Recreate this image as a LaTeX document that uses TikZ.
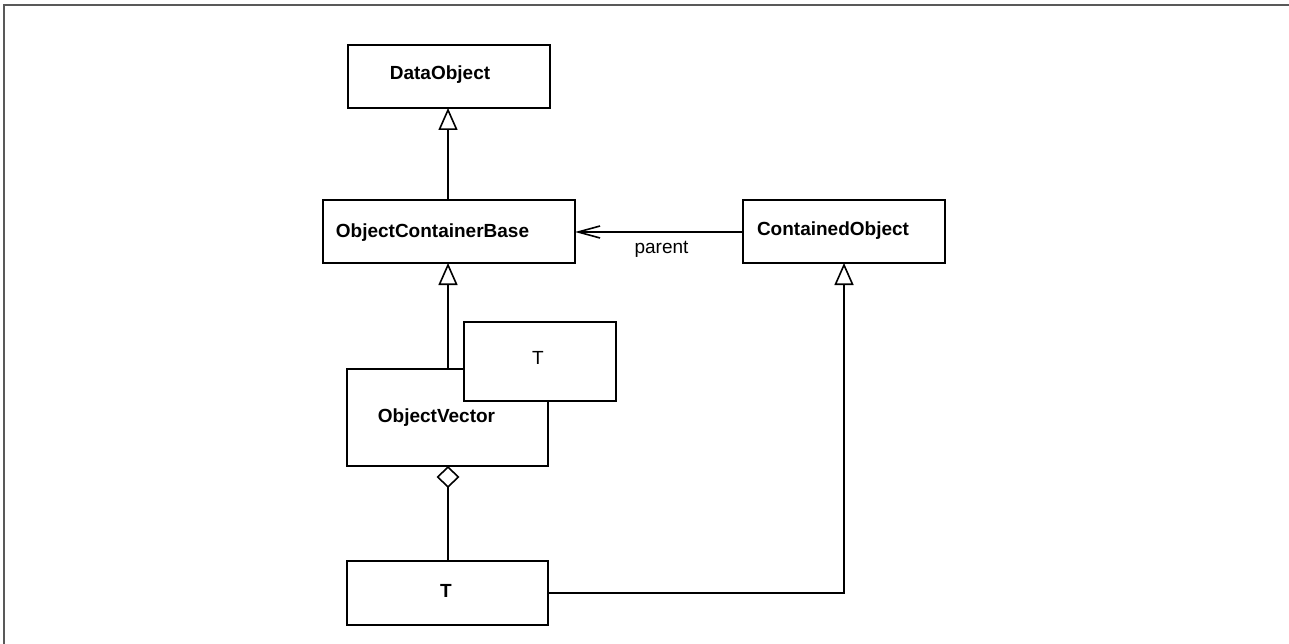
\documentclass[tikz,border=0pt]{standalone}
\usepackage{fontspec}
\setmainfont{Liberation Sans}
\usetikzlibrary{arrows.meta}

\tikzset{
  classbox/.style={draw=black, fill=white, line width=1.8pt, inner sep=0pt, outer sep=0pt},
  cname/.style={font=\fontsize{19}{22}\selectfont\bfseries, anchor=base, inner sep=0pt},
  tname/.style={font=\fontsize{19}{22}\selectfont, anchor=base, inner sep=0pt},
  gen/.style={draw=black, line width=1.8pt, -{Triangle[length=22pt, width=19pt, fill=white, line width=1.6pt]}},
  assoc/.style={draw=black, line width=1.8pt, -{Straight Barb[length=22pt, width=12pt, line width=1.6pt]}},
  agg/.style={draw=black, line width=1.8pt, -{Diamond[length=22pt, width=23pt, fill=white, line width=1.6pt]}},
  frameline/.style={draw=black!65, line width=2pt}
}

\begin{document}
\begin{tikzpicture}[x=1pt, y=-1pt]
\useasboundingbox (0,0) rectangle (1289,644);

% outer frame (left and top edges)
\draw[frameline] (4,650) -- (4,5) -- (1295,5);

% class boxes
\node[classbox, minimum width=202pt, minimum height=63pt] (data) at (449,76.5) {};
\node[classbox, minimum width=252pt, minimum height=63pt] (ocb) at (449,231.5) {};
\node[classbox, minimum width=202pt, minimum height=63pt] (co) at (844,231.5) {};
\node[classbox, minimum width=201pt, minimum height=97pt] (ov) at (447.5,417.5) {};
\node[classbox, minimum width=152pt, minimum height=79pt] (tpl) at (540,361.5) {};
\node[classbox, minimum width=201pt, minimum height=64pt] (t) at (447.5,593) {};

% class names
\node[cname] (dataname) at (440,80) {DataObject};
\node[cname] (ocbname) at (432.5,237) {ObjectContainerBase};
\node[cname] (coname) at (833,236) {ContainedObject};
\node[cname] (ovname) at (436.5,422) {ObjectVector};
\node[tname] (tplname) at (538,364) {T};
\node[cname] (tname) at (446,597) {T};

% relations
\draw[gen] (ocb.north -| 448,0) -- (data.south -| 448,0);
\draw[gen] (ov.north -| 448,0) -- (ocb.south -| 448,0);
\draw[assoc] ([yshift=-0.5pt]co.west) -- ([yshift=-0.5pt]ocb.east);
\node[tname] (parentlbl) at (661.5,253) {parent};
\draw[agg] (t.north -| 448,0) -- (ov.south -| 448,0);
\draw[gen] (t.east) -| (co.south);

\end{tikzpicture}
\end{document}
